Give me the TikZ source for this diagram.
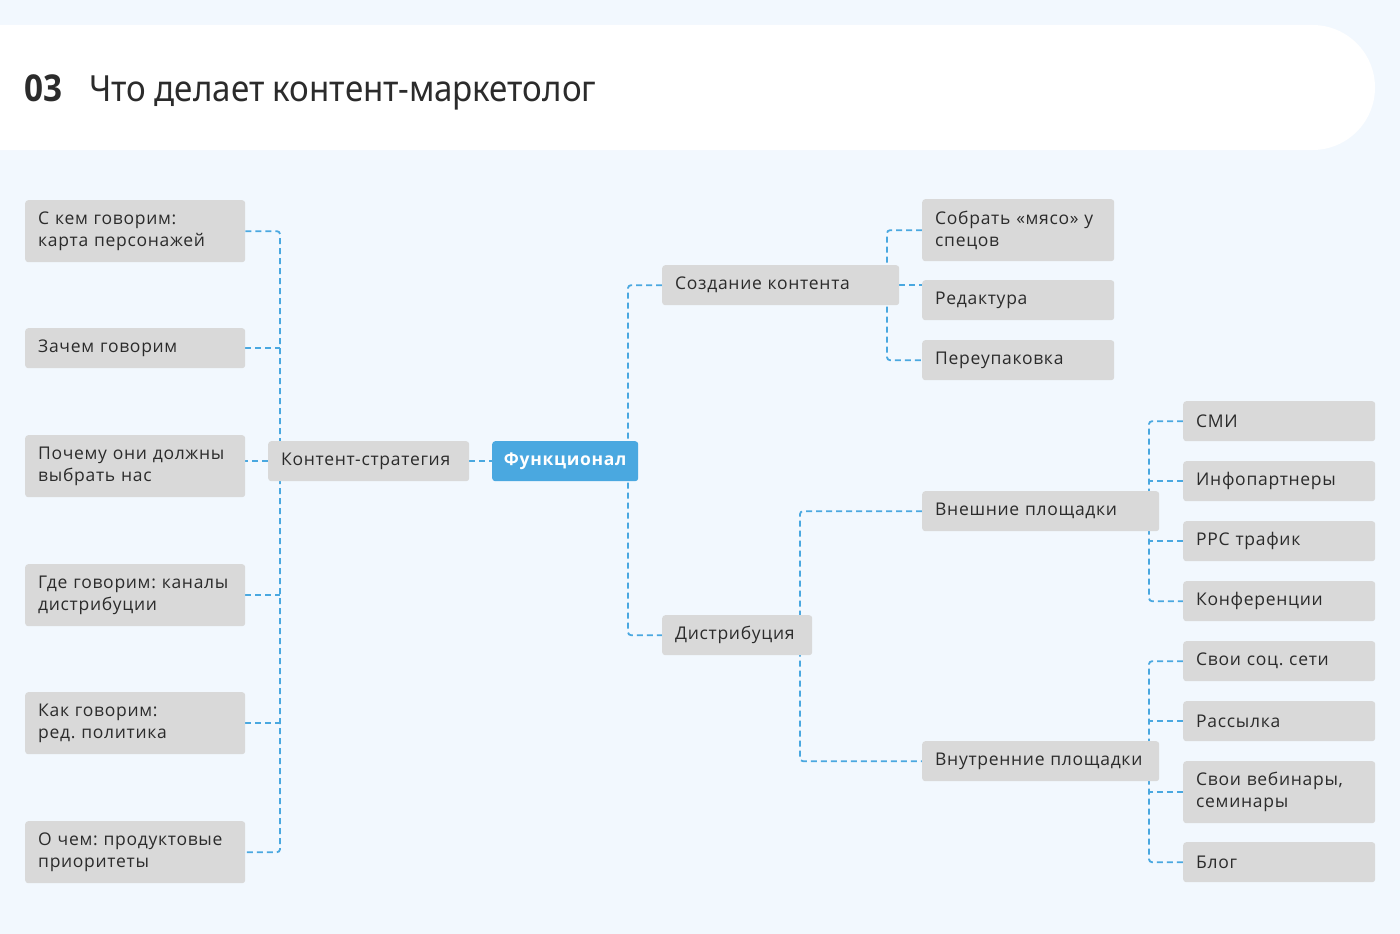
\documentclass[tikz,border=0pt]{standalone}
\usepackage{fontspec}
\setmainfont{Open Sans}[LetterSpace=4]
\newfontfamily\headfont{Noto Sans}[FakeStretch=0.92]
\newfontfamily\numfont{Open Sans}[FakeStretch=0.9]
\usetikzlibrary{positioning,backgrounds}
\frenchspacing
\definecolor{pagebg}{HTML}{F2F8FE}
\definecolor{linkblue}{HTML}{4AA8E0}
\definecolor{boxgray}{HTML}{D9D9D9}
\definecolor{inkgray}{HTML}{2B2B2B}
\tikzset{
  box/.style={anchor=north west, fill=boxgray, rounded corners=3pt, inner xsep=13pt, inner ysep=0pt,
    minimum height=40pt, text width=#1, align=left, text=inkgray, font=\fontsize{17.5}{22}\selectfont},
  box/.default=194pt,
  tall/.style={minimum height=62pt},
  core/.style={anchor=north west, fill=linkblue, rounded corners=3pt, inner sep=0pt, minimum width=146pt,
    minimum height=40pt, text=white, font=\fontsize{17.5}{22}\selectfont\bfseries},
  link/.style={draw=linkblue, line width=1.8pt, dash pattern=on 6pt off 4pt, rounded corners=3pt}
}
\begin{document}
\begin{tikzpicture}[x=1pt,y=-1pt]
  \useasboundingbox (0,0) rectangle (1400,934);
  % page and banner
  \begin{scope}[on background layer]
    \fill[pagebg] (0,0) rectangle (1400,934);
    \fill[white] (0,25) -- (1312.5,25) arc[start angle=-90, end angle=90, radius=62.5] -- (0,150) -- cycle;
  \end{scope}
  \node[anchor=base west, inner sep=0pt, text=inkgray, font=\numfont\fontsize{37}{40}\selectfont\bfseries] (num) at (24,101) {03};
  \node[anchor=base west, inner sep=0pt, text=inkgray, font=\headfont\fontsize{36}{40}\selectfont] (title) at (89,101) {Что делает контент-маркетолог};

  % left column
  \node[box,tall] (who) at (25,200) {С кем говорим:\\карта персонажей};
  \node[box] (why) at (25,328) {Зачем говорим};
  \node[box,tall] (choose) at (25,435) {Почему они должны\\выбрать нас};
  \node[box,tall] (where) at (25,564) {Где говорим: каналы\\дистрибуции};
  \node[box,tall] (how) at (25,692) {Как говорим:\\ред. политика};
  \node[box,tall] (prio) at (25,821) {О чем: продуктовые\\приоритеты};

  % center
  \node[box=175pt] (strat) at (268,441) {Контент-стратегия};
  \node[core] (func) at (492,441) {Функционал};
  \node[box=211pt] (create) at (662,265) {Создание контента};
  \node[box=124pt] (distr) at (662,615) {Дистрибуция};

  % content creation
  \node[box=166pt,tall] (gather) at (922,199) {Собрать «мясо» у\\спецов};
  \node[box=166pt] (edit) at (922,280) {Редактура};
  \node[box=166pt] (repack) at (922,340) {Переупаковка};

  % distribution
  \node[box=211pt] (outer) at (922,491) {Внешние площадки};
  \node[box=211pt] (inner) at (922,741) {Внутренние площадки};
  \node[box=166pt] (media) at (1183,401) {СМИ};
  \node[box=166pt] (partners) at (1183,461) {Инфопартнеры};
  \node[box=166pt] (ppc) at (1183,521) {PPC трафик};
  \node[box=166pt] (conf) at (1183,581) {Конференции};
  \node[box=166pt] (social) at (1183,641) {Свои соц. сети};
  \node[box=166pt] (mail) at (1183,701) {Рассылка};
  \node[box=166pt,tall] (webinar) at (1183,761) {Свои вебинары,\\семинары};
  \node[box=166pt] (blog) at (1183,842) {Блог};

  % connectors
  \coordinate (lspine) at (280,0);
  \coordinate (trunk) at (628,0);
  \coordinate (cspine) at (887,0);
  \coordinate (dspine) at (800,0);
  \coordinate (rspine) at (1149,0);
  \begin{scope}[on background layer]
    \draw[link] (who.east) -- (who.east -| lspine) -- (prio.east -| lspine) -- (prio.east);
    \foreach \n in {why,where,how} \draw[link] (\n.east) -- (\n.east -| lspine);
    \draw[link] (strat.west) -- (strat.west -| choose.east);
    \draw[link] (strat.east) -- (func.west);
    \draw[link] (create.west) -- (create.west -| trunk) -- (distr.west -| trunk) -- (distr.west);
    \draw[link] (gather.west) -- (gather.west -| cspine) -- (repack.west -| cspine) -- (repack.west);
    \draw[link] (create.east) -- (create.east -| edit.west);
    \draw[link] (outer.west) -- (outer.west -| dspine) -- (inner.west -| dspine) -- (inner.west);
    \draw[link] (media.west) -- (media.west -| rspine) -- (conf.west -| rspine) -- (conf.west);
    \draw[link] (social.west) -- (social.west -| rspine) -- (blog.west -| rspine) -- (blog.west);
    \foreach \n in {partners,ppc,mail,webinar} \draw[link] (\n.west) -- (\n.west -| rspine);
  \end{scope}
\end{tikzpicture}
\end{document}
